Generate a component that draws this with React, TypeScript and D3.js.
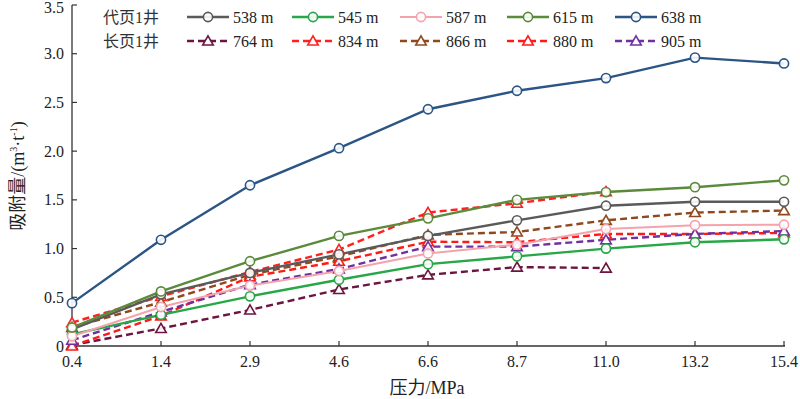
import React from "react";
import * as d3 from "d3";

const pressures = ["0.4", "1.4", "2.9", "4.6", "6.6", "8.7", "11.0", "13.2", "15.4"];
const yTicks = [0, 0.5, 1.0, 1.5, 2.0, 2.5, 3.0, 3.5];

const s538 = [0.17, 0.53, 0.75, 0.94, 1.13, 1.29, 1.44, 1.48, 1.48];
const s545 = [0.12, 0.32, 0.51, 0.68, 0.84, 0.92, 1.0, 1.065, 1.095];
const s587 = [0.1, 0.4, 0.62, 0.77, 0.95, 1.04, 1.2, 1.24, 1.245];
const s615 = [0.19, 0.56, 0.87, 1.13, 1.31, 1.5, 1.58, 1.63, 1.7];
const s638 = [0.44, 1.09, 1.65, 2.03, 2.43, 2.62, 2.75, 2.96, 2.9];
const s764 = [0.01, 0.18, 0.37, 0.58, 0.73, 0.81, 0.8];
const s834 = [0.24, 0.51, 0.76, 0.99, 1.37, 1.465, 1.585];
const s866 = [0.19, 0.45, 0.73, 0.92, 1.14, 1.17, 1.29, 1.37, 1.39];
const s880 = [0.0, 0.31, 0.71, 0.87, 1.07, 1.065, 1.15, 1.15, 1.16];
const s905 = [0.06, 0.35, 0.63, 0.79, 1.02, 1.02, 1.09, 1.15, 1.18];

const wellA = "代页1井";
const wellB = "长页1井";

type Series = { name: string; values: number[]; color: string; dashed: boolean; width: number };

const seriesA: Series[] = [
  { name: "538 m", values: s538, color: "#5a5a5a", dashed: false, width: 2.4 },
  { name: "545 m", values: s545, color: "#27a748", dashed: false, width: 2.4 },
  { name: "587 m", values: s587, color: "#f4a3ad", dashed: false, width: 2 },
  { name: "615 m", values: s615, color: "#5a8a3a", dashed: false, width: 2.4 },
  { name: "638 m", values: s638, color: "#2b5585", dashed: false, width: 2.4 },
];
const seriesB: Series[] = [
  { name: "764 m", values: s764, color: "#6c1540", dashed: true, width: 2.4 },
  { name: "834 m", values: s834, color: "#ff2020", dashed: true, width: 2.4 },
  { name: "866 m", values: s866, color: "#8e4a1e", dashed: true, width: 2.4 },
  { name: "880 m", values: s880, color: "#ff1a1a", dashed: true, width: 2.4 },
  { name: "905 m", values: s905, color: "#7030a0", dashed: true, width: 2.4 },
];

const FONT = "'Liberation Serif', 'Times New Roman', 'Noto Sans CJK SC', serif";

function Marker({ x, y, s }: { x: number; y: number; s: Series }) {
  if (!s.dashed) {
    return <circle cx={x} cy={y} r={4.6} fill="white" fillOpacity={0.9} stroke={s.color} strokeWidth={1.6} />;
  }
  const tri = d3.symbol(d3.symbolTriangle, 48)();
  return (
    <path d={tri || ""} transform={`translate(${x},${y + 1})`} fill="white" fillOpacity={0.9} stroke={s.color} strokeWidth={1.6} />
  );
}

export default function App() {
  const W = 800, H = 399;
  const x = d3.scalePoint<string>().domain(pressures).range([72, 784]).padding(0);
  const y = d3.scaleLinear().domain([0, 3.5]).range([346, 5]);
  const line = d3
    .line<number>()
    .x((_, i) => x(pressures[i]) as number)
    .y((v) => y(v));

  const drawOrder = [...seriesB, ...seriesA];

  const legendX = [187, 292, 400, 507, 615];
  const rowY = [17, 41];

  return (
    <svg width={W} height={H} style={{ position: "absolute", left: 0, top: 0, background: "white" }} fontFamily={FONT}>
      {/* axes */}
      <line x1={72} x2={72} y1={5} y2={346} stroke="#333" strokeWidth={1.3} />
      <line x1={72} x2={785} y1={346} y2={346} stroke="#333" strokeWidth={1.3} />
      {yTicks.map((t) => (
        <g key={t}>
          <line x1={72} x2={77} y1={y(t)} y2={y(t)} stroke="#333" strokeWidth={1.2} />
          <text x={64} y={Math.max(y(t), 7)} dy="0.35em" textAnchor="end" fontSize={16} fill="#222">
            {t === 0 ? "0" : d3.format(".1f")(t)}
          </text>
        </g>
      ))}
      {pressures.map((p) => (
        <g key={p}>
          <line x1={x(p)} x2={x(p)} y1={346} y2={341} stroke="#333" strokeWidth={1.2} />
          <text x={x(p)} y={367} textAnchor="middle" fontSize={16} fill="#222">
            {p}
          </text>
        </g>
      ))}
      <text x={427} y={394} textAnchor="middle" fontSize={18} fill="#222">
        压力/MPa
      </text>
      <text transform="translate(24,176) rotate(-90)" textAnchor="middle" fontSize={18} fill="#222">
        吸附量/(m<tspan fontSize={10} dy={-7}>3</tspan>
        <tspan dy={7}>·t</tspan>
        <tspan fontSize={10} dy={-7}>-1</tspan>
        <tspan dy={7}>)</tspan>
      </text>

      {/* lines */}
      {drawOrder.map((s) => (
        <path
          key={s.name}
          d={line(s.values) || ""}
          fill="none"
          stroke={s.color}
          strokeWidth={s.width}
          strokeDasharray={s.dashed ? "7,4" : undefined}
        />
      ))}
      {drawOrder.map((s) =>
        s.values.map((v, i) => <Marker key={s.name + i} x={x(pressures[i]) as number} y={y(v)} s={s} />)
      )}

      {/* legend */}
      <text x={103} y={rowY[0]} dy="0.35em" fontSize={16} fill="#333">
        {wellA}
      </text>
      <text x={103} y={rowY[1]} dy="0.35em" fontSize={16} fill="#333">
        {wellB}
      </text>
      {[seriesA, seriesB].map((group, r) =>
        group.map((s, i) => {
          const lx = legendX[i];
          const ly = rowY[r];
          return (
            <g key={s.name}>
              <line
                x1={lx}
                x2={lx + 42}
                y1={ly}
                y2={ly}
                stroke={s.color}
                strokeWidth={s.width}
                strokeDasharray={s.dashed ? "7,4" : undefined}
              />
              <Marker x={lx + 21} y={ly} s={s} />
              <text x={lx + 46} y={ly} dy="0.35em" fontSize={16} fill="#222">
                {s.name}
              </text>
            </g>
          );
        })
      )}
    </svg>
  );
}
